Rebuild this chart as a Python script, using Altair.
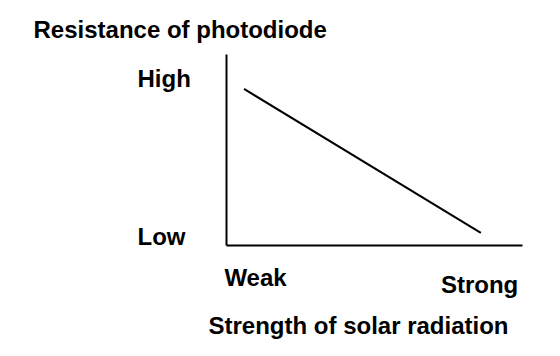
import altair as alt
import pandas as pd

# Data (normalized)
strength = [0.061, 0.861]
resistance = [0.817, 0.063]
x_tick_values = [0.098, 0.855]
x_tick_labels = ["Weak", "Strong"]
y_tick_values = [0.005, 0.832]
y_tick_labels = ["Low", "High"]

df = pd.DataFrame({"strength": strength, "resistance": resistance})

FONT = "Liberation Sans"
FS = 24
FW = "bold"

x_expr = "datum.value < 0.5 ? '%s' : '%s'" % (x_tick_labels[0], x_tick_labels[1])
y_expr = "datum.value < 0.5 ? '%s' : '%s'" % (y_tick_labels[0], y_tick_labels[1])

chart = alt.Chart(df).mark_line(color="black", strokeWidth=2).encode(
    x=alt.X(
        "strength:Q",
        scale=alt.Scale(domain=[0, 1], nice=False, zero=False),
        axis=alt.Axis(
            values=x_tick_values,
            labelExpr=x_expr,
            ticks=False,
            tickSize=0,
            grid=False,
            domainColor="black",
            domainWidth=2,
            labelFont=FONT,
            labelFontSize=FS,
            labelFontWeight=FW,
            labelColor="black",
            labelAlign="center",
            labelBaseline="alphabetic",
            labelPadding={"condition": {"test": "datum.value > 0.5", "value": 47}, "value": 40},
            title="Strength of solar radiation",
            titleFont=FONT,
            titleFontSize=FS,
            titleFontWeight=FW,
            titleColor="black",
            titleAlign="left",
            titleBaseline="alphabetic",
            titleX=-18,
            titleY=88,
        ),
    ),
    y=alt.Y(
        "resistance:Q",
        scale=alt.Scale(domain=[0, 1], nice=False, zero=False),
        axis=alt.Axis(
            values=y_tick_values,
            labelExpr=y_expr,
            ticks=False,
            tickSize=0,
            grid=False,
            domainColor="black",
            domainWidth=2,
            labelFont=FONT,
            labelFontSize=FS,
            labelFontWeight=FW,
            labelColor="black",
            labelAlign="left",
            labelBaseline="alphabetic",
            labelPadding=89,
            title="Resistance of photodiode",
            titleFont=FONT,
            titleFontSize=FS,
            titleFontWeight=FW,
            titleColor="black",
            titleAngle=0,
            titleAlign="left",
            titleBaseline="alphabetic",
            titleX=-193,
            titleY=-17,
        ),
    ),
).properties(
    width=296,
    height=191,
    autosize=alt.AutoSizeParams(type="none"),
    padding={"left": 218, "top": 46, "right": 30, "bottom": 103},
).configure_view(strokeWidth=0)

chart.save("out.html", embed_options={"renderer": "svg", "actions": False})
